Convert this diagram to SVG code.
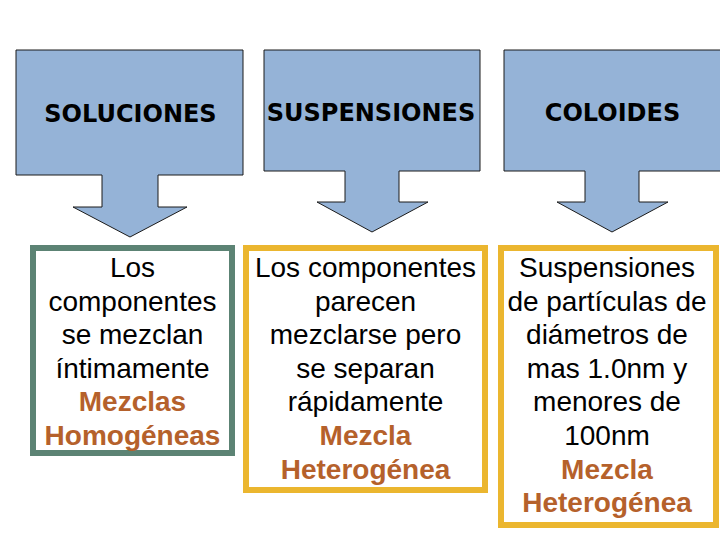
<svg xmlns="http://www.w3.org/2000/svg" width="720" height="540" viewBox="0 0 720 540">
<style>
.callout{fill:#95B3D7;stroke:#1b1b1b;stroke-width:1}
.title{font-family:"DejaVu Sans",Verdana,sans-serif;font-weight:bold;font-size:24px;fill:#000;text-anchor:middle}
.box{fill:#fff;stroke-width:6}
.t{font-family:"Liberation Sans",Arial,sans-serif;font-size:28px;fill:#000;text-anchor:middle}
.b{font-weight:bold;fill:#B5612B}
</style>
<rect width="720" height="540" fill="#fff"/>
<g id="soluciones">
<path class="callout" d="M16,50 H243 V175 H158 V207 H187 L130,237 L73,207 H102 V175 H16 Z"/>
<text class="title" x="130.5" y="122">SOLUCIONES</text>
</g>
<g id="suspensiones">
<path class="callout" d="M264,50 H480 V171 H399 V202 H428 L372,232 L317,202 H345 V171 H264 Z"/>
<text class="title" x="371" y="121">SUSPENSIONES</text>
</g>
<g id="coloides">
<path class="callout" d="M504,50 H728 V171 H639 V202 H668 L612,232 L557,202 H585 V171 H504 Z"/>
<text class="title" x="612.5" y="121">COLOIDES</text>
</g>
<g id="box-soluciones">
<rect class="box" x="33" y="248" width="199" height="205" stroke="#5C8374"/>
<text class="t" x="132.5" y="277">Los</text>
<text class="t" x="132.5" y="310.6">componentes</text>
<text class="t" x="132.5" y="344.2">se mezclan</text>
<text class="t" x="132.5" y="377.8">íntimamente</text>
<text class="t b" x="132.5" y="411.4">Mezclas</text>
<text class="t b" x="132.5" y="445">Homogéneas</text>
</g>
<g id="box-suspensiones">
<rect class="box" x="246" y="248" width="239" height="242" stroke="#EBB62F"/>
<text class="t" x="365.5" y="277">Los componentes</text>
<text class="t" x="365.5" y="310.6">parecen</text>
<text class="t" x="365.5" y="344.2">mezclarse pero</text>
<text class="t" x="365.5" y="377.8">se separan</text>
<text class="t" x="365.5" y="411.4">rápidamente</text>
<text class="t b" x="365.5" y="445">Mezcla</text>
<text class="t b" x="365.5" y="478.6">Heterogénea</text>
</g>
<g id="box-coloides">
<rect class="box" x="501" y="248" width="215" height="277" stroke="#EBB62F"/>
<text class="t" x="607" y="277">Suspensiones</text>
<text class="t" x="607" y="310.6">de partículas de</text>
<text class="t" x="607" y="344.2">diámetros de</text>
<text class="t" x="607" y="377.8">mas 1.0nm y</text>
<text class="t" x="607" y="411.4">menores de</text>
<text class="t" x="607" y="445">100nm</text>
<text class="t b" x="607" y="478.6">Mezcla</text>
<text class="t b" x="607" y="512.2">Heterogénea</text>
</g>
<g id="connectors"></g>
</svg>
